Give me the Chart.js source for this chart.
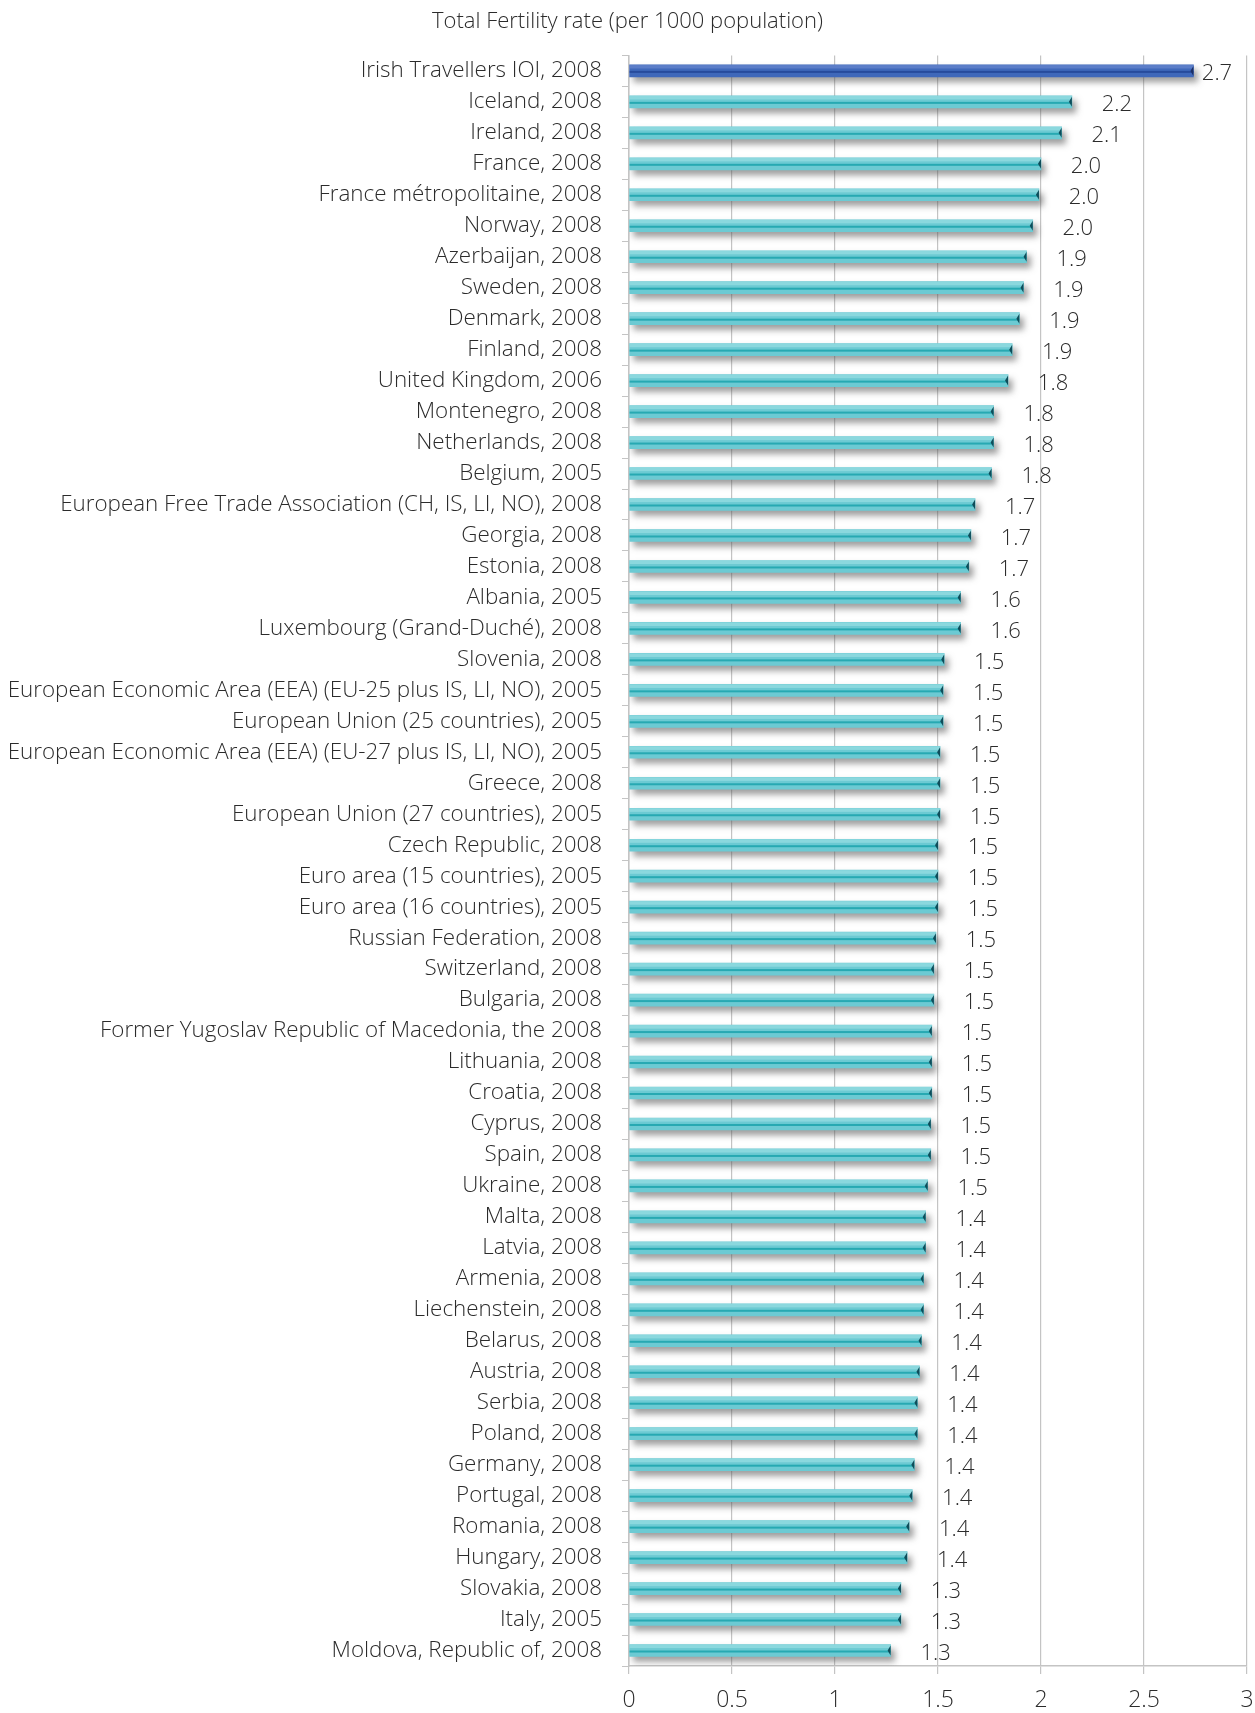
<!DOCTYPE html>
<html>
<head>
<meta charset="utf-8">
<script src="https://cdn.jsdelivr.net/npm/chart.js@4.4.1/dist/chart.umd.min.js"></script>
<style>
  html, body { margin: 0; padding: 0; background: #fff; overflow: hidden; }
  #wrap { width: 1255px; height: 1713px; position: relative; }
  canvas { display: block; }
</style>
</head>
<body>
<div id="wrap"><canvas id="fertChart"></canvas></div>
<script>
const titleText = 'Total Fertility rate (per 1000 population)';

const categories = [
    'Irish Travellers IOI, 2008', 'Iceland, 2008', 'Ireland, 2008', 'France, 2008',
    'France métropolitaine, 2008', 'Norway, 2008', 'Azerbaijan, 2008', 'Sweden, 2008',
    'Denmark, 2008', 'Finland, 2008', 'United Kingdom, 2006', 'Montenegro, 2008',
    'Netherlands, 2008', 'Belgium, 2005', 'European Free Trade Association (CH, IS, LI, NO), 2008',
    'Georgia, 2008', 'Estonia, 2008', 'Albania, 2005', 'Luxembourg (Grand-Duché), 2008',
    'Slovenia, 2008', 'European Economic Area (EEA) (EU-25 plus IS, LI, NO), 2005',
    'European Union (25 countries), 2005', 'European Economic Area (EEA) (EU-27 plus IS, LI, NO), 2005',
    'Greece, 2008', 'European Union (27 countries), 2005', 'Czech Republic, 2008',
    'Euro area (15 countries), 2005', 'Euro area (16 countries), 2005', 'Russian Federation, 2008',
    'Switzerland, 2008', 'Bulgaria, 2008', 'Former Yugoslav Republic of Macedonia, the 2008',
    'Lithuania, 2008', 'Croatia, 2008', 'Cyprus, 2008', 'Spain, 2008', 'Ukraine, 2008',
    'Malta, 2008', 'Latvia, 2008', 'Armenia, 2008', 'Liechenstein, 2008', 'Belarus, 2008',
    'Austria, 2008', 'Serbia, 2008', 'Poland, 2008', 'Germany, 2008', 'Portugal, 2008',
    'Romania, 2008', 'Hungary, 2008', 'Slovakia, 2008', 'Italy, 2005', 'Moldova, Republic of, 2008'
];

// bar lengths
const values = [
    2.74, 2.15, 2.10, 2.00, 1.99, 1.96, 1.93, 1.915, 1.895, 1.86, 1.84, 1.77, 1.77, 1.76,
    1.68, 1.66, 1.65, 1.61, 1.61, 1.53, 1.525, 1.525, 1.51, 1.51, 1.51, 1.50, 1.50, 1.50,
    1.49, 1.48, 1.48, 1.47, 1.47, 1.47, 1.465, 1.465, 1.45, 1.44, 1.44, 1.43, 1.43, 1.42,
    1.41, 1.40, 1.40, 1.385, 1.375, 1.36, 1.35, 1.32, 1.32, 1.27
];

// printed labels
const valueLabels = [
    '2.7', '2.2', '2.1', '2.0', '2.0', '2.0', '1.9', '1.9', '1.9', '1.9', '1.8', '1.8', '1.8', '1.8',
    '1.7', '1.7', '1.7', '1.6', '1.6', '1.5', '1.5', '1.5', '1.5', '1.5', '1.5', '1.5', '1.5', '1.5',
    '1.5', '1.5', '1.5', '1.5', '1.5', '1.5', '1.5', '1.5', '1.5', '1.4', '1.4', '1.4', '1.4', '1.4',
    '1.4', '1.4', '1.4', '1.4', '1.4', '1.4', '1.4', '1.3', '1.3', '1.3'
];

const xTickLabels = ['0', '0.5', '1', '1.5', '2', '2.5', '3'];

const FONT = "'Open Sans', 'Noto Sans', sans-serif";
const TEXT = '#2b2b2b';
const GRID = '#c4c4c4';

// soft shadow under the bars, stripes and end caps on top
const barStyle = {
    id: 'barStyle',
    beforeDatasetsDraw(chart) {
        const c = chart.ctx;
        c.save();
        c.shadowColor = 'rgba(80,80,80,0.55)';
        c.shadowOffsetX = 4;
        c.shadowOffsetY = 5;
        c.shadowBlur = 6;
    },
    afterDatasetsDraw(chart) {
        const c = chart.ctx;
        c.restore();
        const meta = chart.getDatasetMeta(0);
        const area = chart.chartArea;
        c.save();
        meta.data.forEach((bar, i) => {
            const h = bar.height;
            const top = bar.y - h / 2;
            const w = bar.x - bar.base;
            const first = i === 0;
            // upper highlight
            c.fillStyle = first ? 'rgba(110,140,210,0.6)' : 'rgba(150,220,226,0.75)';
            c.fillRect(bar.base, top, w, h * 0.3);
            // darker core line
            c.fillStyle = first ? 'rgba(35,70,150,0.85)' : 'rgba(22,160,170,0.8)';
            c.fillRect(bar.base, bar.y, w, 2);
            // end cap
            c.fillStyle = first ? '#1b2f66' : '#0f4d5a';
            c.beginPath();
            c.moveTo(bar.x - 3, bar.y);
            c.lineTo(bar.x, top + 1);
            c.lineTo(bar.x, top + h - 1);
            c.closePath();
            c.fill();

            // value label
            c.fillStyle = TEXT;
            c.font = '300 22px ' + FONT;
            c.textAlign = 'center';
            c.textBaseline = 'middle';
            const lx = Math.min(bar.x + 45, area.right - 30);
            c.fillText(valueLabels[i], lx, bar.y + 3);
        });
        c.restore();
    }
};

const ctx = document.getElementById('fertChart').getContext('2d');
const fertChart = new Chart(ctx, {
    type: 'bar',
    data: {
        labels: categories,
        datasets: [{
            data: values,
            backgroundColor: values.map((v, i) => i === 0 ? '#3f68ba' : '#6ccad3'),
            borderWidth: 0,
            barThickness: 12
        }]
    },
    options: {
        indexAxis: 'y',
        responsive: true,
        maintainAspectRatio: false,
        animation: false,
        layout: { padding: { left: 0, right: 0, top: 0, bottom: 0 } },
        scales: {
            x: {
                min: 0, max: 3,
                ticks: {
                    stepSize: 0.5,
                    color: TEXT,
                    padding: 13,
                    font: { family: FONT, size: 23, weight: 300 },
                    callback: (v, i) => xTickLabels[i]
                },
                grid: { color: GRID, tickLength: 8, lineWidth: 1.2 },
                border: { color: GRID, width: 1.5 },
                afterFit: (s) => { s.height = 47; s.paddingRight = 8; s.paddingLeft = 0; }
            },
            y: {
                ticks: {
                    color: TEXT,
                    padding: 20,
                    font: { family: FONT, size: 22.4, weight: 300 }
                },
                grid: { color: GRID, drawOnChartArea: false, tickLength: 7, offset: true },
                border: { color: GRID, width: 1.5 },
                afterFit: (s) => { s.width = 629; }
            }
        },
        plugins: {
            legend: { display: false },
            tooltip: { enabled: false },
            title: {
                display: true,
                text: titleText,
                color: TEXT,
                font: { family: FONT, size: 22, weight: 300 },
                padding: { top: 9, bottom: 20 }
            }
        }
    },
    plugins: [barStyle]
});
</script>
</body>
</html>
